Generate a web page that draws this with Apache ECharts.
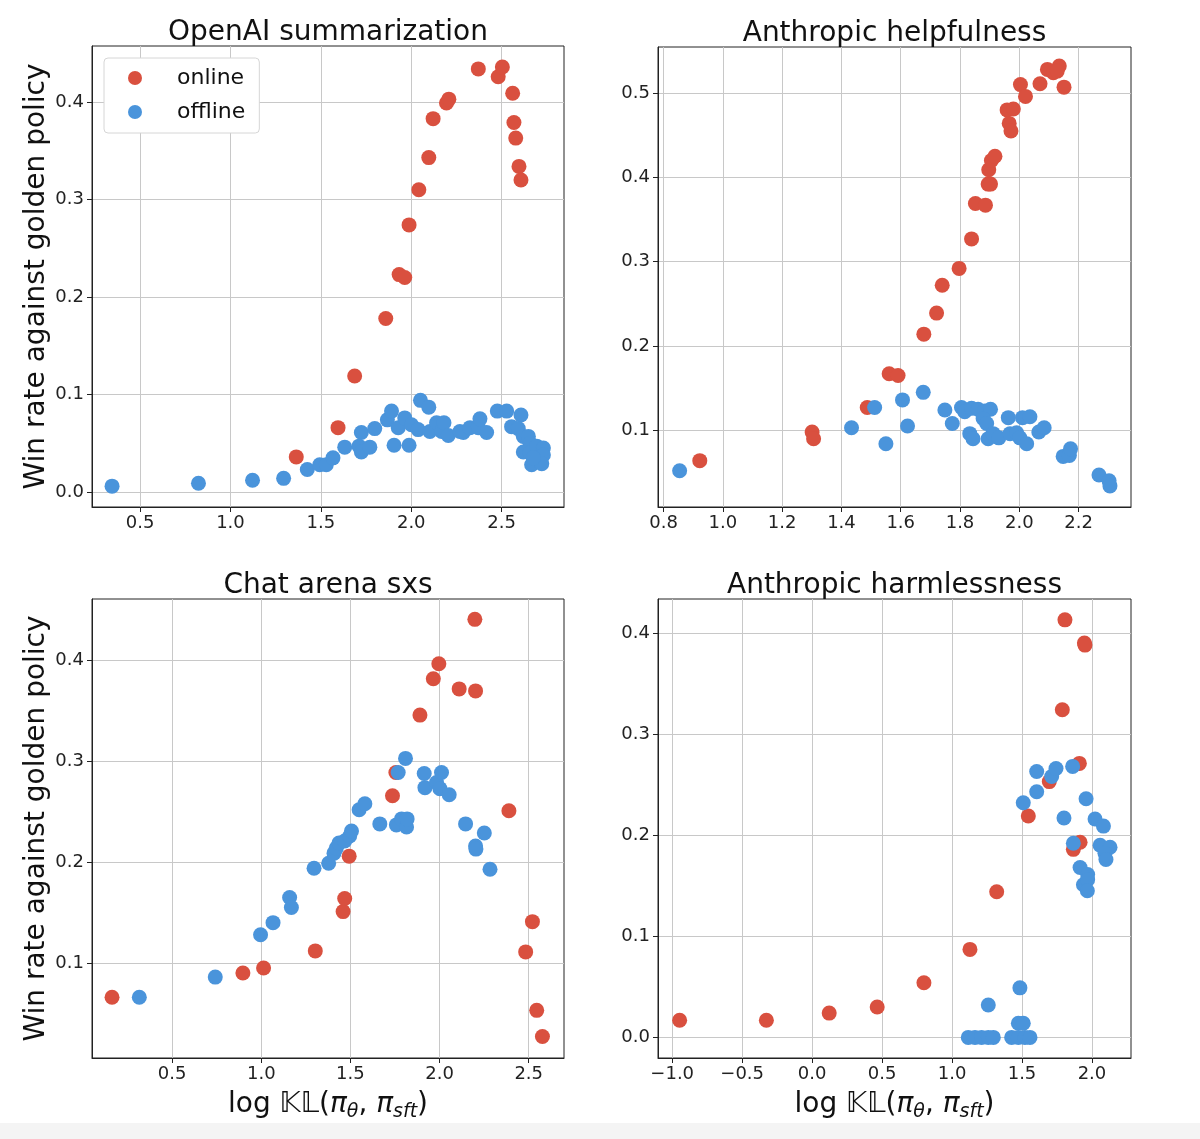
<!DOCTYPE html>
<html>
<head>
<meta charset="utf-8">
<script src="https://cdn.jsdelivr.net/npm/echarts@6/dist/echarts.min.js"></script>
<style>
  html, body { margin: 0; padding: 0; background: #fff; }
  #main { width: 1200px; height: 1139px; }
</style>
</head>
<body>
<div id="main"></div>
<script>
// values, [log KL, win rate]
const summOnline = [[1.364,0.036],[1.595,0.066],[1.687,0.119],[1.859,0.178],[1.933,0.223],[1.964,0.220],[1.988,0.274],
  [2.042,0.310],[2.097,0.343],[2.121,0.383],[2.195,0.399],[2.208,0.403],[2.371,0.434],[2.481,0.426],[2.504,0.436],
  [2.561,0.409],[2.568,0.379],[2.578,0.363],[2.596,0.334],[2.607,0.320]];
const summOffline = [[0.345,0.006],[0.823,0.009],[1.122,0.012],[1.294,0.014],[1.425,0.023],[1.494,0.028],[1.530,0.028],
  [1.567,0.035],[1.632,0.046],[1.711,0.047],[1.724,0.041],[1.724,0.061],[1.771,0.046],[1.798,0.065],[1.868,0.074],
  [1.891,0.083],[1.905,0.048],[1.928,0.066],[1.964,0.076],[1.988,0.048],[2.001,0.069],[2.038,0.064],[2.051,0.094],
  [2.097,0.087],[2.103,0.062],[2.140,0.071],[2.168,0.062],[2.181,0.071],[2.205,0.058],[2.269,0.062],[2.288,0.061],
  [2.325,0.066],[2.371,0.066],[2.380,0.075],[2.417,0.061],[2.476,0.083],[2.528,0.083],[2.555,0.067],[2.607,0.079],
  [2.592,0.065],[2.620,0.057],[2.648,0.057],[2.657,0.050],[2.620,0.041],[2.657,0.040],[2.694,0.047],[2.731,0.045],
  [2.731,0.038],[2.666,0.028],[2.722,0.029],[2.675,0.035]];

const helpOnline = [[0.922,0.064],[1.301,0.098],[1.306,0.090],[1.487,0.127],[1.561,0.167],[1.591,0.165],[1.678,0.214],
  [1.721,0.239],[1.740,0.272],[1.797,0.292],[1.839,0.327],[1.852,0.369],[1.886,0.367],[1.895,0.392],[1.903,0.392],
  [1.897,0.409],[1.906,0.420],[1.918,0.425],[1.959,0.480],[1.980,0.481],[1.966,0.464],[1.972,0.455],[2.004,0.510],
  [2.021,0.496],[2.070,0.511],[2.095,0.528],[2.115,0.524],[2.135,0.532],[2.128,0.526],[2.151,0.507]];
const helpOffline = [[0.854,0.052],[1.434,0.103],[1.512,0.127],[1.550,0.084],[1.606,0.136],[1.623,0.105],[1.676,0.145],
  [1.749,0.124],[1.774,0.108],[1.805,0.127],[1.816,0.122],[1.839,0.126],[1.861,0.125],[1.884,0.123],[1.903,0.125],
  [1.833,0.096],[1.844,0.090],[1.878,0.114],[1.890,0.108],[1.895,0.090],[1.912,0.096],[1.931,0.091],[1.963,0.115],
  [1.969,0.096],[1.991,0.097],[2.002,0.091],[2.011,0.115],[2.036,0.116],[2.025,0.084],[2.066,0.098],[2.084,0.103],
  [2.148,0.069],[2.169,0.070],[2.173,0.078],[2.269,0.047],[2.303,0.040],[2.306,0.034]];

const arenaOnline = [[0.163,0.066],[0.897,0.090],[1.013,0.095],[1.303,0.112],[1.459,0.151],[1.468,0.164],[1.493,0.206],
  [1.736,0.266],[1.755,0.289],[1.890,0.346],[1.965,0.382],[1.996,0.397],[2.110,0.372],[2.202,0.370],[2.198,0.441],
  [2.389,0.251],[2.521,0.141],[2.483,0.111],[2.545,0.053],[2.577,0.027]];
const arenaOffline = [[0.316,0.066],[0.742,0.086],[0.996,0.128],[1.066,0.140],[1.159,0.165],[1.169,0.155],[1.296,0.194],
  [1.378,0.199],[1.408,0.209],[1.421,0.214],[1.436,0.219],[1.468,0.221],[1.496,0.226],[1.506,0.231],[1.549,0.252],
  [1.581,0.258],[1.665,0.238],[1.758,0.237],[1.787,0.243],[1.815,0.235],[1.818,0.243],[1.768,0.289],[1.809,0.303],
  [1.914,0.288],[1.918,0.274],[1.983,0.279],[2.011,0.289],[2.002,0.273],[2.054,0.267],[2.146,0.238],[2.202,0.216],
  [2.204,0.213],[2.251,0.229],[2.283,0.193]];

const harmOnline = [[-0.947,0.017],[-0.327,0.017],[0.122,0.024],[0.465,0.030],[0.799,0.054],[1.128,0.087],[1.319,0.144],
  [1.545,0.219],[1.695,0.253],[1.788,0.324],[1.807,0.413],[1.946,0.390],[1.950,0.388],[1.910,0.271],[1.867,0.186],
  [1.915,0.193]];
const harmOffline = [[1.259,0.032],[1.485,0.049],[1.474,0.014],[1.509,0.014],[1.116,0],[1.164,0],[1.211,0],[1.259,0],
  [1.295,0],[1.426,0],[1.474,0],[1.521,0],[1.557,0],[1.509,0.232],[1.605,0.263],[1.605,0.243],[1.712,0.258],
  [1.743,0.266],[1.862,0.268],[1.958,0.236],[1.800,0.217],[2.022,0.216],[2.082,0.209],[1.867,0.192],[2.058,0.190],
  [2.129,0.188],[2.093,0.182],[2.100,0.176],[1.915,0.168],[1.969,0.161],[1.939,0.151],[1.969,0.156],[1.967,0.145]];

const titles = ['OpenAI summarization', 'Anthropic helpfulness', 'Chat arena sxs', 'Anthropic harmlessness'];
const xTicks = [[0.5, 1.0, 1.5, 2.0, 2.5], [0.8, 1.0, 1.2, 1.4, 1.6, 1.8, 2.0, 2.2],
  [0.5, 1.0, 1.5, 2.0, 2.5], [-1.0, -0.5, 0.0, 0.5, 1.0, 1.5, 2.0]];
const yTicks = [[0.0, 0.1, 0.2, 0.3, 0.4], [0.1, 0.2, 0.3, 0.4, 0.5], [0.1, 0.2, 0.3, 0.4], [0.0, 0.1, 0.2, 0.3, 0.4]];
const xRange = [[0.234, 2.845], [0.781, 2.377], [0.0506, 2.698], [-1.1016, 2.279]];
const yRange = [[-0.0154, 0.4575], [0.009, 0.5546], [0.0057, 0.4612], [-0.0204, 0.4336]];

const panels = [[summOnline, summOffline], [helpOnline, helpOffline], [arenaOnline, arenaOffline], [harmOnline, harmOffline]];

const RED = '#d9503f';
const BLUE = '#4a94db';
const FONT = 'DejaVu Sans';

const boxes = [
  { left: 92, top: 46, width: 472, height: 461 },
  { left: 658, top: 47, width: 473, height: 460 },
  { left: 92, top: 599, width: 472, height: 459 },
  { left: 658, top: 599, width: 473, height: 459 }
];

function fmt(v) {
  const s = v.toFixed(1);
  return v < 0 ? '\u2212' + s.slice(1) : s;
}

const xName = '{n|log }{bb|\u{1D542}\u{1D543}}{n|(}{pi|\u03C0}{sub|\u03B8}{n|, }{pi|\u03C0}{sub|sft}{n|)}';

var chartDom = document.getElementById('main');
var myChart = echarts.init(chartDom);

let grids = [], xAxes = [], yAxes = [], series = [], titleList = [];
boxes.forEach((b, i) => {
  grids.push(Object.assign({ show: true, borderColor: '#222', borderWidth: 1, backgroundColor: '#fff' }, b));
  titleList.push({
    text: titles[i],
    left: b.left + b.width / 2,
    top: b.top - 27,
    textAlign: 'center',
    padding: 0,
    textStyle: { fontFamily: FONT, fontSize: 28, fontWeight: 'normal', color: '#111' }
  });
  xAxes.push({
    type: 'value',
    gridIndex: i,
    min: xRange[i][0],
    max: xRange[i][1],
    name: i >= 2 ? xName : '',
    nameLocation: 'middle',
    nameGap: 29,
    nameTextStyle: {
      color: '#111',
      rich: {
        n: { fontFamily: FONT, fontSize: 28, color: '#111' },
        bb: { fontFamily: FONT, fontSize: 28, color: '#111' },
        pi: { fontFamily: FONT, fontSize: 28, fontStyle: 'italic', color: '#111' },
        sub: { fontFamily: FONT, fontSize: 19, fontStyle: 'italic', color: '#111', padding: [16, 0, 0, 0] }
      }
    },
    axisLine: { show: true, onZero: false, lineStyle: { color: '#222', width: 1 } },
    axisTick: { show: true, length: 5, lineStyle: { color: '#222' }, customValues: xTicks[i] },
    axisLabel: { customValues: xTicks[i], formatter: fmt, margin: 7, fontFamily: FONT, fontSize: 18, color: '#222' },
    splitLine: { show: true, lineStyle: { color: '#c8c8c8', width: 1 } }
  });
  yAxes.push({
    type: 'value',
    gridIndex: i,
    min: yRange[i][0],
    max: yRange[i][1],
    name: i % 2 === 0 ? 'Win rate against golden policy' : '',
    nameLocation: 'middle',
    nameGap: 41,
    nameRotate: 90,
    nameTextStyle: { fontFamily: FONT, fontSize: 28, color: '#111' },
    axisLine: { show: true, onZero: false, lineStyle: { color: '#222', width: 1 } },
    axisTick: { show: true, length: 5, lineStyle: { color: '#222' }, customValues: yTicks[i] },
    axisLabel: { customValues: yTicks[i], formatter: fmt, margin: 8, fontFamily: FONT, fontSize: 18, color: '#222' },
    splitLine: { show: true, lineStyle: { color: '#c8c8c8', width: 1 } }
  });
  ['online', 'offline'].forEach((name, k) => {
    series.push({
      name: name,
      type: 'scatter',
      xAxisIndex: i,
      yAxisIndex: i,
      symbol: 'circle',
      symbolSize: 15,
      itemStyle: { color: k === 0 ? RED : BLUE, opacity: 1 },
      data: panels[i][k]
    });
  });
});

var option = {
  animation: false,
  backgroundColor: '#fff',
  title: titleList,
  legend: {
    data: ['online', 'offline'],
    orient: 'vertical',
    left: 104,
    top: 58,
    icon: 'circle',
    itemWidth: 14,
    itemHeight: 14,
    itemGap: 10,
    padding: [8, 14, 9, 24],
    backgroundColor: '#fff',
    borderColor: '#d6d6d6',
    borderWidth: 1,
    borderRadius: 4,
    textStyle: { fontFamily: FONT, fontSize: 22, color: '#111', lineHeight: 24, padding: [0, 0, 0, 30] }
  },
  graphic: [{
    type: 'rect',
    shape: { x: 0, y: 1123, width: 1200, height: 16 },
    style: { fill: '#f4f4f4' },
    silent: true
  }],
  grid: grids,
  xAxis: xAxes,
  yAxis: yAxes,
  series: series
};
option && myChart.setOption(option);
</script>
</body>
</html>
